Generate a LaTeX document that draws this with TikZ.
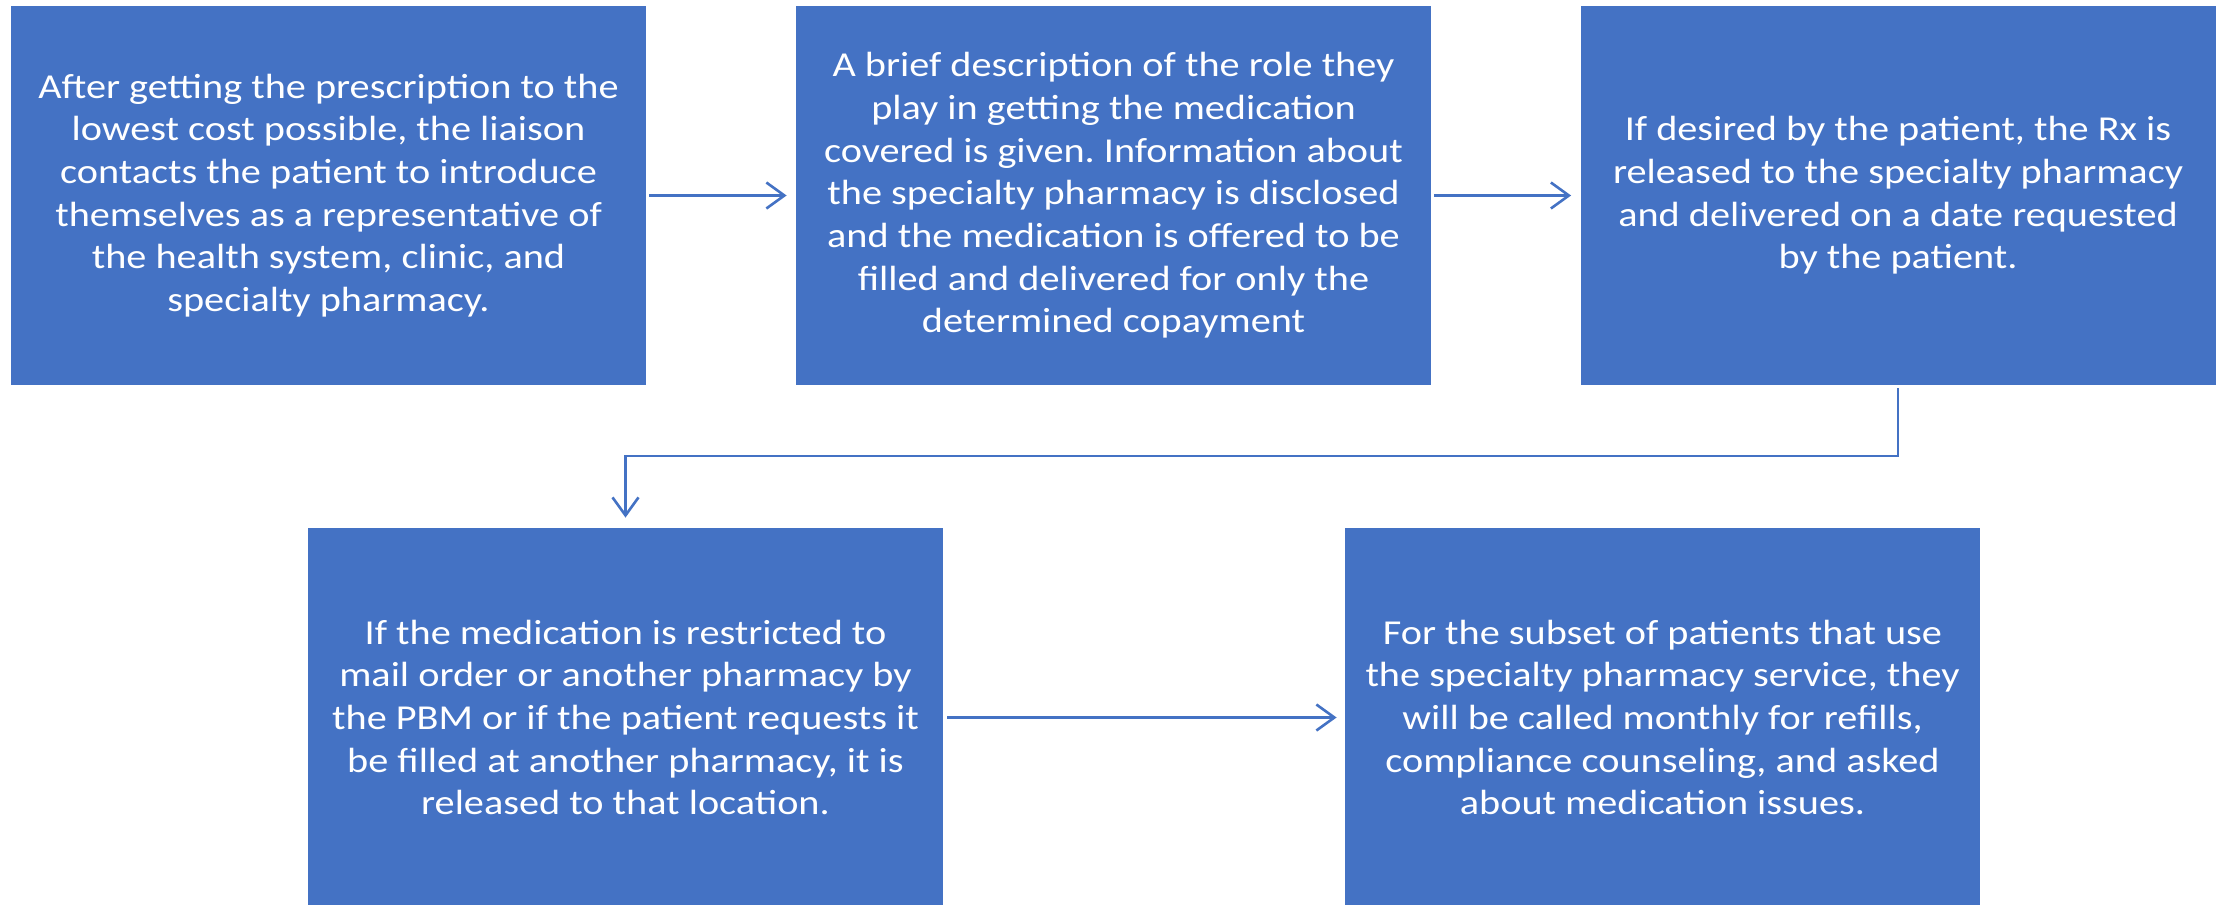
\documentclass[tikz,border=0pt]{standalone}
\usepackage{fontspec}
\setmainfont{Carlito}[FakeStretch=1.15]
\usetikzlibrary{arrows.meta}
\definecolor{boxblue}{HTML}{4472C4}
\frenchspacing
\tikzset{
  stepbox/.style={fill=boxblue, draw=none, text=white, align=center,
    minimum width=317.5pt, minimum height=189.5pt, inner sep=0pt,
    font=\fontsize{17.5pt}{21.35pt}\selectfont},
  flow/.style={draw=boxblue, line width=1.3pt,
    -{Straight Barb[length=9pt, width=13pt, line width=1.3pt]}}
}
\begin{document}
\begin{tikzpicture}[x=0.5pt, y=-0.5pt]
\clip (0,0) rectangle (2218,905);
\fill[white] (0,0) rectangle (2218,905);

% top row
\node[stepbox] (contact) at (328.5,195.5) {After getting the prescription to the\\lowest cost possible, the liaison\\contacts the patient to introduce\\themselves as a representative of\\the health system, clinic, and\\specialty pharmacy.};
\node[stepbox] (describe) at (1113.5,195.5) {A brief description of the role they\\play in getting the medication\\covered is given. Information about\\the specialty pharmacy is disclosed\\and the medication is offered to be\\filled and delivered for only the\\determined copayment};
\node[stepbox] (release) at (1898,195.5) {If desired by the patient, the Rx is\\released to the specialty pharmacy\\and delivered on a date requested\\by the patient.};

% bottom row
\node[stepbox] (restrict) at (625.5,717.5) {If the medication is restricted to\\mail order or another pharmacy by\\the PBM or if the patient requests it\\be filled at another pharmacy, it is\\released to that location.};
\node[stepbox] (monthly) at (1662.5,717.5) {For the subset of patients that use\\the specialty pharmacy service, they\\will be called monthly for refills,\\compliance counseling, and asked\\about medication issues.};

% arrows
\coordinate (turn) at (0,456);
\draw[flow, shorten <=1.5pt, shorten >=4.5pt] (contact) -- (describe);
\draw[flow, shorten <=1.5pt, shorten >=4.5pt] (describe) -- (release);
\draw[flow, shorten <=1.5pt, shorten >=5pt] (release.south) -- (release.south |- turn) -| (restrict.north);
\draw[flow, shorten <=2pt, shorten >=4pt] (restrict) -- (monthly);

\end{tikzpicture}
\end{document}
